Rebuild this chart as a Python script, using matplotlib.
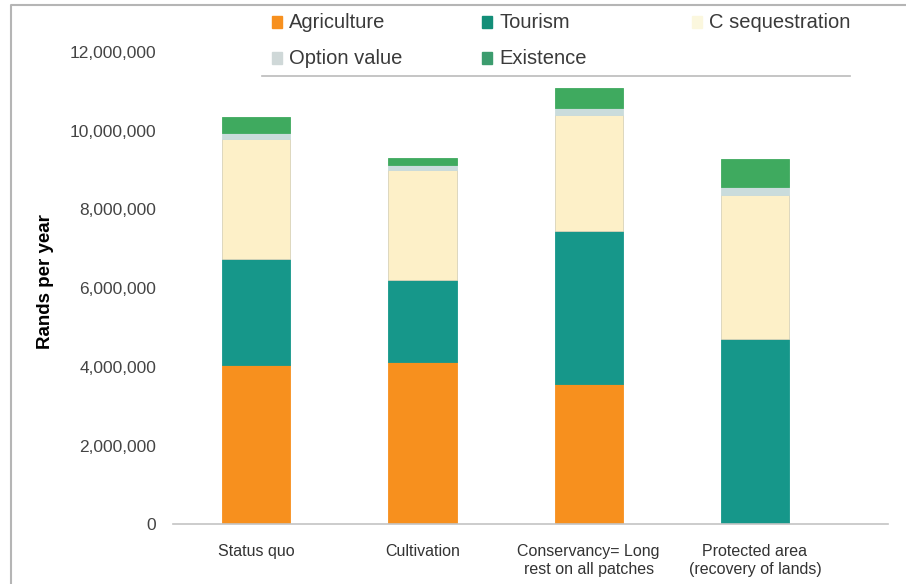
import numpy as np
import matplotlib.pyplot as plt
from matplotlib.patches import Rectangle
from matplotlib.lines import Line2D
from matplotlib.ticker import FuncFormatter

plt.rcParams['font.family'] = ['Liberation Sans', 'DejaVu Sans']

categories = ["Status quo", "Cultivation", "Conservancy= Long\nrest on all patches",
              "Protected area\n(recovery of lands)"]
series = ["Agriculture", "Tourism", "C sequestration", "Option value", "Existence"]
agriculture = [4.05e6, 4.13e6, 3.57e6, 0]
tourism = [2.69e6, 2.08e6, 3.87e6, 4.70e6]
c_seq = [3.05e6, 2.78e6, 2.97e6, 3.67e6]
option_value = [0.15e6, 0.14e6, 0.17e6, 0.20e6]
existence = [0.41e6, 0.18e6, 0.50e6, 0.71e6]
yticks = [0, 2e6, 4e6, 6e6, 8e6, 10e6, 12e6]

colors = ["#f7901e", "#16978a", "#fdf0c8", "#cadcdc", "#3faa5f"]
legend_colors = ["#f7901e", "#138e78", "#fbf7de", "#cfd8d8", "#3c9c6e"]

W, H = 906, 584
fig = plt.figure(figsize=(W / 100, H / 100), dpi=100)
ax = fig.add_axes([173 / W, (H - 524.3) / H, 715 / W, 472.3 / H])

x = np.arange(len(categories))
bottom = np.zeros(len(categories))
for vals, col in zip([agriculture, tourism, c_seq, option_value, existence], colors):
    ec = "#d8d2b8" if col == "#fdf0c8" else col
    ax.bar(x, vals, width=0.41, bottom=bottom, color=col, edgecolor=ec, linewidth=0.6)
    bottom += np.array(vals)

ax.set_xlim(-0.5, 3.8)
ax.set_ylim(0, 12e6)
ax.set_yticks(yticks)
ax.yaxis.set_major_formatter(FuncFormatter(lambda v, p: f"{int(v):,}"))
ax.set_xticks(x)
ax.set_xticklabels(categories, fontsize=11.5, color="#333333", linespacing=1.3)
ax.tick_params(axis="y", length=0, pad=12, labelsize=12.5, labelcolor="#444444")
ax.tick_params(axis="x", length=0, pad=14)
for s in ["top", "right", "left"]:
    ax.spines[s].set_visible(False)
ax.spines["bottom"].set_color("#c4c4c4")
ax.spines["bottom"].set_linewidth(1.2)
ax.set_ylabel("Rands per year", fontsize=13.5, fontweight="bold")
ax.yaxis.set_label_coords(-0.166, 0.515)

# legend drawn by hand
leg_pos = [(272, 22), (482, 22), (692, 22), (272, 58), (482, 58)]
for name, col, (px, py) in zip(series, legend_colors, leg_pos):
    fig.patches.append(Rectangle(((px) / W, (H - py - 6) / H), 10 / W, 12 / H,
                                 transform=fig.transFigure, color=col))
    fig.text((px + 17) / W, (H - py) / H, name, fontsize=14.5, color="#3a3a3a",
             va="center", ha="left")
fig.lines.append(Line2D([262 / W, 850 / W], [(H - 76) / H] * 2, transform=fig.transFigure,
                        color="#bbbbbb", lw=1.2))

# outer frame
fig.lines.append(Line2D([11 / W, 11 / W, 1.0], [0, (H - 5) / H, (H - 5) / H],
                        transform=fig.transFigure, color="#b5b5b5", lw=1.5))

fig.savefig("out.png", dpi=100)
